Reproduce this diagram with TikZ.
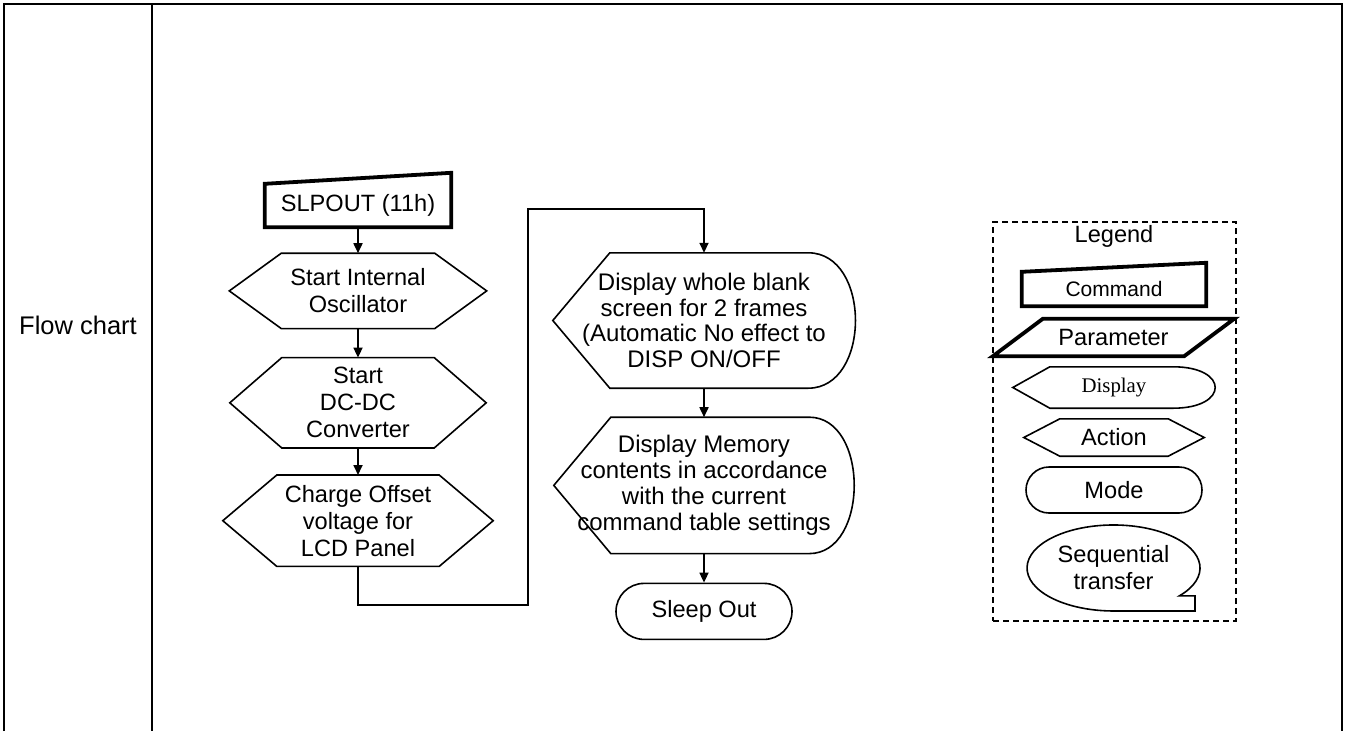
\documentclass[tikz,border=0pt]{standalone}
\usepackage{fontspec}
\setmainfont{Liberation Sans}
\newfontfamily\legendserif{Liberation Serif}
\usepackage{tikz}
\usetikzlibrary{arrows.meta, positioning, calc}

\newcommand{\flowfont}{\fontsize{23.6pt}{27pt}\selectfont}
\newcommand{\dispfont}{\fontsize{24pt}{25.8pt}\selectfont}

\begin{document}
\begin{tikzpicture}[
    x=1pt, y=-1pt,
    node distance=28pt,
    tableline/.style={line width=1.8pt},
    thinline/.style={line width=1.6pt},
    thickline/.style={line width=3.8pt},
    arr/.style={-{Triangle[length=10pt, width=9pt]}, line width=1.7pt},
    legendbox/.style={draw, line width=1.8pt, dash pattern=on 6pt off 4pt},
    cmdnode/.style={inner sep=0pt, align=center, font=\flowfont,
        append after command={\pgfextra{\draw[thickline]
            (\tikzlastnode.south west) -- (\tikzlastnode.north west)
            -- ([yshift=#1]\tikzlastnode.north east)
            -- (\tikzlastnode.south east) -- cycle;}}},
    cmdnode/.default=11pt,
    paranode/.style={inner sep=0pt, align=center, font=\flowfont,
        append after command={\pgfextra{\draw[thickline]
            (\tikzlastnode.south west) -- ([xshift=#1]\tikzlastnode.north west)
            -- (\tikzlastnode.north east)
            -- ([xshift=-#1]\tikzlastnode.south east) -- cycle;}}},
    paranode/.default=50pt,
    hexnode/.style={inner sep=0pt, align=center, font=\flowfont,
        append after command={\pgfextra{\draw[thinline]
            (\tikzlastnode.west) -- ([xshift=#1]\tikzlastnode.north west)
            -- ([xshift=-#1]\tikzlastnode.north east) -- (\tikzlastnode.east)
            -- ([xshift=-#1]\tikzlastnode.south east)
            -- ([xshift=#1]\tikzlastnode.south west) -- cycle;}}},
    hexnode/.default=52pt,
    dispnode/.style n args={3}{inner sep=0pt, align=center, font=\dispfont,
        append after command={\pgfextra{\draw[thinline]
            (\tikzlastnode.west) -- ([xshift=#1]\tikzlastnode.north west)
            -- ([xshift=-#2]\tikzlastnode.north east)
            .. controls ([xshift=#3]\tikzlastnode.north east)
                    and ([xshift=#3]\tikzlastnode.south east)
            .. ([xshift=-#2]\tikzlastnode.south east)
            -- ([xshift=#1]\tikzlastnode.south west) -- cycle;}}},
    modenode/.style={draw, thinline, rounded corners=#1, inner sep=0pt,
        align=center, font=\flowfont},
    modenode/.default=23pt,
    seqnode/.style={inner sep=0pt, align=center, font=\flowfont,
        append after command={\pgfextra{\draw[thinline]
            ([xshift=65.8pt, yshift=-27.9pt]\tikzlastnode.center)
            arc[start angle=-40.5, end angle=270, x radius=86.5pt, y radius=43pt]
            -- ([xshift=81.5pt, yshift=-43pt]\tikzlastnode.center)
            -- ([xshift=81.5pt, yshift=-27.9pt]\tikzlastnode.center) -- cycle;}}},
]
    \useasboundingbox (0,0) rectangle (1346,731);

    \draw[tableline] (4,731) -- (4,4) -- (1342,4) -- (1342,731);
    \draw[tableline] (152,4) -- (152,731);
    \node[font=\fontsize{25.5pt}{30pt}\selectfont] (lbl) at (78,325) {Flow chart};

    \node[cmdnode, minimum width=186pt, minimum height=43pt] (n1) at (358,205.5) {SLPOUT (11h)};
    \node[hexnode, minimum width=257pt, minimum height=75pt, below=26pt of n1] (n2) {Start Internal\\Oscillator};
    \node[hexnode, minimum width=256pt, minimum height=90pt, below=29pt of n2] (n3) {Start\\DC-DC\\Converter};
    \node[hexnode=54pt, minimum width=270pt, minimum height=91pt, below=27pt of n3] (n4) {Charge Offset\\voltage for\\LCD Panel};
    \node[dispnode={57pt}{47pt}{16pt}, minimum width=302pt, minimum height=135pt] (n5) at (704,320.5)
        {Display whole blank\\screen for 2 frames\\(Automatic No effect to\\DISP ON/OFF};
    \node[dispnode={57pt}{45pt}{15pt}, minimum width=300pt, minimum height=136pt, below=29pt of n5] (n6)
        {Display Memory\\contents in accordance\\with the current\\command table settings};
    \node[modenode=28pt, minimum width=176pt, minimum height=56pt, below=29pt of n6] (n7) {Sleep Out};
    \coordinate (bend1) at (528,605);

    \draw[arr] (n1) -- (n2);
    \draw[arr] (n2) -- (n3);
    \draw[arr] (n3) -- (n4);
    \draw[arr] (n4.south) |- (bend1) |- ([yshift=44pt]n5.north) -- (n5.north);
    \draw[arr] (n5) -- (n6);
    \draw[arr] (n6) -- (n7);

    \node[legendbox, minimum width=243pt, minimum height=399pt] (lg) at (1114.5,421.5) {};
    \node[font=\flowfont] (lgt) at (1114,236) {Legend};
    \node[cmdnode=9pt, minimum width=184pt, minimum height=34pt,
          font=\fontsize{21pt}{24pt}\selectfont] (k1) at (1114,289) {Command};
    \node[paranode, minimum width=241pt, minimum height=37pt] (k2) at (1113.5,337.5) {Parameter};
    \node[dispnode={37pt}{42pt}{14pt}, minimum width=202pt, minimum height=41pt,
          font=\legendserif\fontsize{20.8pt}{24pt}\selectfont] (k3) at (1114,387.5) {Display};
    \node[hexnode=36pt, minimum width=180pt, minimum height=37pt] (k4) at (1114,437.5) {Action};
    \node[modenode, minimum width=176pt, minimum height=46pt] (k5) at (1114,490) {Mode};
    \node[seqnode, minimum width=173pt, minimum height=86pt] (k6) at (1113.5,568) {Sequential\\transfer};
\end{tikzpicture}
\end{document}
